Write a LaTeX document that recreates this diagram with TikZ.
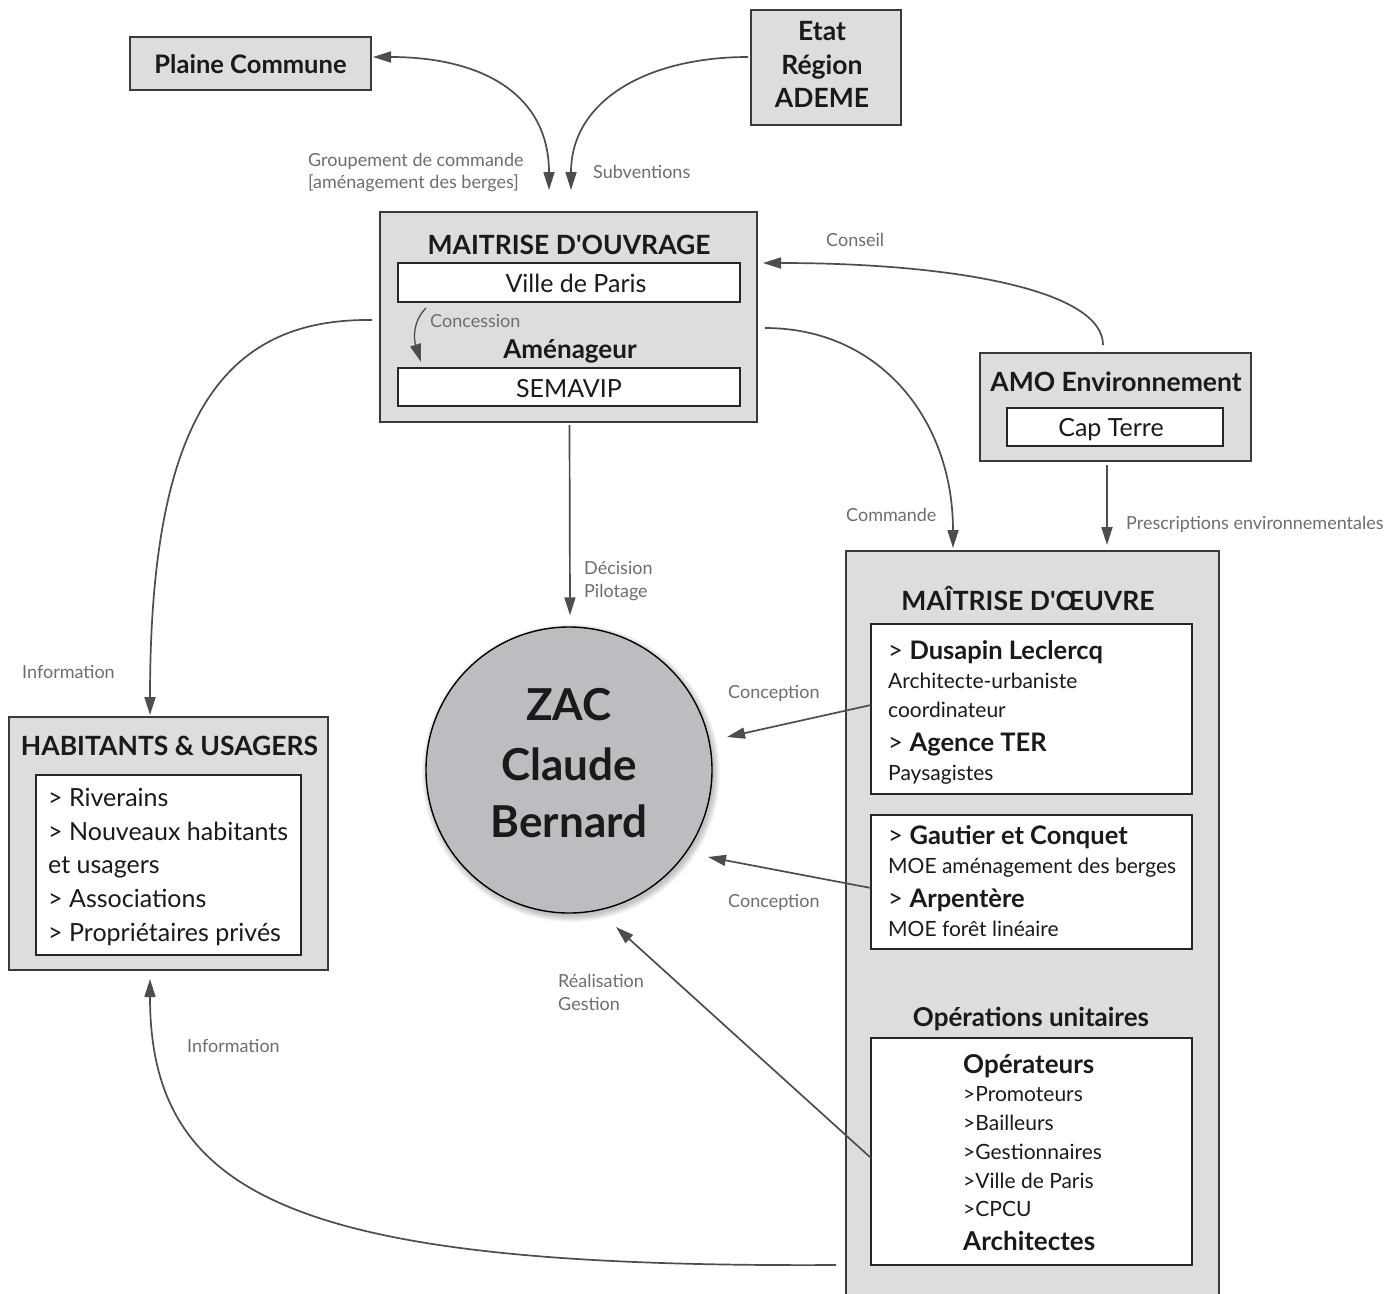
\documentclass[tikz,border=0pt]{standalone}
\usepackage{fontspec}
\setmainfont{Lato}[Ligatures=TeXOff]
\usetikzlibrary{arrows.meta}
\definecolor{boxfill}{HTML}{DCDDDF}
\definecolor{boxline}{HTML}{3A3A3A}
\definecolor{zacfill}{HTML}{BCBDC0}
\definecolor{arrowgray}{HTML}{4D4D4F}
\definecolor{labelgray}{HTML}{6D6E71}
\definecolor{textcol}{HTML}{1A1A1A}
\newcommand\fLbl{\fontsize{18}{21}\selectfont}
\newcommand\fTitle{\fontsize{26.5}{30}\selectfont\bfseries}
\newcommand\fBig{\fontsize{25}{30}\selectfont}
\newcommand\fName{\fontsize{25.5}{30}\selectfont}
\newcommand\fSub{\fontsize{26}{29}\selectfont\bfseries}
\newcommand\fMid{\fontsize{21}{25}\selectfont}
\newcommand\fZac{\fontsize{44}{50}\selectfont\bfseries}
\newcommand\fPC{\fontsize{25.5}{28}\selectfont\bfseries}
\begin{document}
\begin{tikzpicture}[x=1pt,y=-1pt,
  outerbox/.style={draw=boxline, fill=boxfill, line width=1.1pt, inner sep=0pt, outer sep=0pt},
  innerbox/.style={draw=black!85, fill=white, line width=1.3pt, inner sep=0pt, outer sep=0pt},
  arr/.style={draw=arrowgray, line width=1.7pt, -{Triangle[length=18pt,width=11pt]}},
  lbl/.style={text=labelgray, font=\fLbl, inner sep=0pt, anchor=base west},
  txt/.style={inner sep=0pt, anchor=base west, text=textcol},
  ctxt/.style={inner sep=0pt, anchor=base, text=textcol},
]
\useasboundingbox[fill=white] (0,0) rectangle (1386,1293);

% ---- Plaine Commune
\node[outerbox, minimum width=241pt, minimum height=53pt] (pc) at (250.5,63.5) {};
\node[ctxt, font=\fPC] (pct) at (250.5,73) {Plaine Commune};

% ---- Etat
\node[outerbox, minimum width=150pt, minimum height=115pt] (etat) at (826,67.5) {};
\node[ctxt, font=\fTitle] (etat1) at (822,40) {Etat};
\node[ctxt, font=\fTitle] (etat2) at (822,74) {Région};
\node[ctxt, font=\fTitle] (etat3) at (822,107) {ADEME};

\node[lbl] (grp1) at (308,166) {Groupement de commande};
\node[lbl] (grp2) at (308,188) {[aménagement des berges]};
\node[lbl] (subv) at (593,178) {Subventions};

% ---- Maitrise d'ouvrage
\node[outerbox, minimum width=377pt, minimum height=210pt] (mo) at (568.5,317) {};
\node[ctxt, font=\fTitle] (mot) at (569,254) {MAITRISE D'OUVRAGE};
\node[innerbox, minimum width=342pt, minimum height=39pt] (vp) at (569,282.5) {};
\node[ctxt, font=\fBig] (vpt) at (576,292) {Ville de Paris};
\node[lbl] (conc) at (430,327) {Concession};
\node[ctxt, font=\fSub] (amen) at (570,358) {Aménageur};
\node[innerbox, minimum width=342pt, minimum height=38pt] (sem) at (569,387) {};
\node[ctxt, font=\fBig] (semt) at (569,397) {SEMAVIP};

% ---- AMO
\node[outerbox, minimum width=271pt, minimum height=108pt] (amo) at (1115.5,407) {};
\node[ctxt, font=\fTitle] (amot) at (1116,391) {AMO Environnement};
\node[innerbox, minimum width=216pt, minimum height=38pt] (cap) at (1115,427) {};
\node[ctxt, font=\fBig] (capt) at (1111,436) {Cap Terre};

\node[lbl] (cons) at (826,246) {Conseil};
\node[lbl] (comm) at (846,521) {Commande};
\node[lbl] (presc) at (1126,529) {Prescriptions environnementales};
\node[lbl] (dec1) at (584,574) {Décision};
\node[lbl] (dec2) at (584,597) {Pilotage};

% ---- Maitrise d'oeuvre
\node[outerbox, minimum width=373pt, minimum height=760pt] (moe) at (1032.5,931) {};
\node[ctxt, font=\fTitle] (moet) at (1028,610) {MAÎTRISE D'ŒUVRE};
\node[innerbox, minimum width=321pt, minimum height=170pt] (b1) at (1031.5,709) {};
\node[txt, font=\fName] (b1a) at (888,659) {> \textbf{Dusapin Leclercq}};
\node[txt, font=\fMid] (b1b) at (888,688) {Architecte-urbaniste};
\node[txt, font=\fMid] (b1c) at (888,717) {coordinateur};
\node[txt, font=\fName] (b1d) at (888,751) {> \textbf{Agence TER}};
\node[txt, font=\fMid] (b1e) at (888,780) {Paysagistes};
\node[innerbox, minimum width=321pt, minimum height=134pt] (b2) at (1031.5,882) {};
\node[txt, font=\fName] (b2a) at (888,844) {> \textbf{Gautier et Conquet}};
\node[txt, font=\fMid] (b2b) at (888,873) {MOE aménagement des berges};
\node[txt, font=\fName] (b2c) at (888,907) {> \textbf{Arpentère}};
\node[txt, font=\fMid] (b2d) at (888,936) {MOE forêt linéaire};
\node[ctxt, font=\fSub] (opu) at (1031,1026) {Opérations unitaires};
\node[innerbox, minimum width=321pt, minimum height=227pt] (b3) at (1031.5,1151.5) {};
\node[txt, font=\fSub] (b3a) at (963,1073) {Opérateurs};
\node[txt, font=\fMid] (b3b) at (963,1101) {>Promoteurs};
\node[txt, font=\fMid] (b3c) at (963,1130) {>Bailleurs};
\node[txt, font=\fMid] (b3d) at (963,1159) {>Gestionnaires};
\node[txt, font=\fMid] (b3e) at (963,1188) {>Ville de Paris};
\node[txt, font=\fMid] (b3f) at (963,1216) {>CPCU};
\node[txt, font=\fSub] (b3g) at (963,1250) {Architectes};

% ---- Habitants
\node[outerbox, minimum width=319pt, minimum height=253pt] (hu) at (168.5,843.5) {};
\node[ctxt, font=\fTitle] (hut) at (169.5,755) {HABITANTS \& USAGERS};
\node[innerbox, minimum width=265pt, minimum height=180pt] (hui) at (168.5,865) {};
\node[txt, font=\fBig] (hu1) at (48,806) {> Riverains};
\node[txt, font=\fBig] (hu2) at (48,840) {> Nouveaux habitants};
\node[txt, font=\fBig] (hu3) at (48,873) {et usagers};
\node[txt, font=\fBig] (hu4) at (48,907) {> Associations};
\node[txt, font=\fBig] (hu5) at (48,941) {> Propriétaires privés};

\node[lbl] (info1) at (22,678) {Information};
\node[lbl] (info2) at (187,1052) {Information};
\node[lbl] (conc1) at (728,698) {Conception};
\node[lbl] (conc2) at (728,907) {Conception};
\node[lbl] (real1) at (558,987) {Réalisation};
\node[lbl] (real2) at (558,1010) {Gestion};

% ---- ZAC circle
\foreach \i in {1,...,7} \fill[black, opacity=0.035] (571,773) circle (142+\i);
\node[circle, draw=black, line width=1.4pt, fill=zacfill, minimum size=286pt, inner sep=0pt] (zac) at (569,770) {};
\node[ctxt, font=\fZac] (z1) at (569,720) {ZAC};
\node[ctxt, font=\fZac] (z2) at (569,780) {Claude};
\node[ctxt, font=\fZac] (z3) at (569,837) {Bernard};

% ---- connectors
\draw[arr, {Triangle[length=18pt,width=11pt]}-{Triangle[length=18pt,width=11pt]}]
  ([xshift=2pt,yshift=6.5pt]pc.east) .. controls +(110,0) and +(0,-95) .. ([xshift=-19.5pt,yshift=22pt]mo.north);
\draw[arr] ([xshift=-3pt,yshift=10.5pt]etat.west) .. controls +(-100,0) and +(0,-90) .. ([xshift=2.5pt,yshift=22pt]mo.north);
\draw[arr] ([xshift=-8pt,yshift=-3pt]mo.west) .. controls +(-150,-2) and +(0,-295) .. ([xshift=-18.5pt,yshift=2pt]hu.north);
\draw[arr] ([xshift=8pt,yshift=-11pt]mo.east) .. controls +(115,0) and +(0,-128) .. ([xshift=-79.5pt,yshift=3pt]moe.north);
\draw[arr] ([xshift=-12.5pt,yshift=8pt]amo.north) .. controls +(0,-55) and +(190,0) .. ([xshift=6pt,yshift=54pt]mo.east);
\draw[arr] ([xshift=-8.5pt,yshift=-4pt]amo.south) -- ([xshift=74.5pt,yshift=6pt]moe.north);
\draw[arr] ([xshift=1pt,yshift=-3pt]mo.south) -- ([xshift=1pt,yshift=11pt]zac.north);
\draw[arr] ([yshift=4pt]b1.west) -- ([xshift=158pt,yshift=33pt]zac.center);
\draw[arr] ([yshift=-6pt]b2.west) -- ([xshift=139pt,yshift=-87pt]zac.center);
\draw[arr] ([yshift=-6.5pt]b3.west) -- ([xshift=47pt,yshift=-157pt]zac.center);
\draw[arr] ([xshift=-10pt,yshift=-334pt]moe.west) .. controls +(-536,3) and +(0,221) .. ([xshift=-18.5pt,yshift=-9pt]hu.south);
\draw[arr, line width=1.3pt] ([xshift=28pt,yshift=-6pt]vp.south west) .. controls +(-14,14) and +(-7,-22) .. ([xshift=23pt,yshift=6pt]sem.north west);
\end{tikzpicture}
\end{document}
